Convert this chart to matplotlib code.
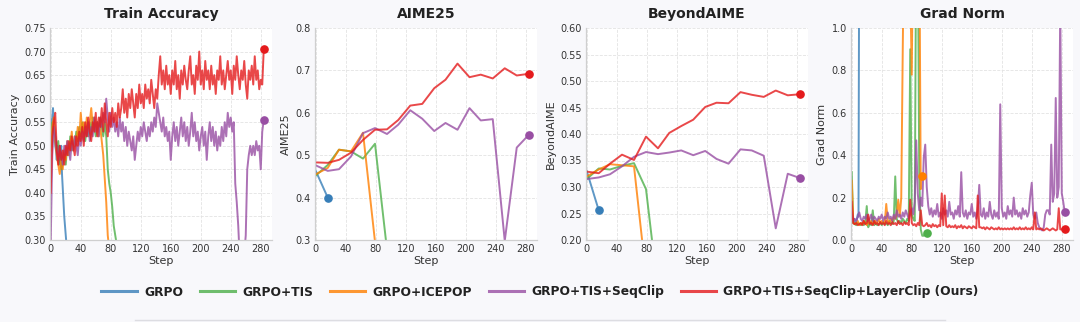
import numpy as np
import matplotlib
matplotlib.use("Agg")
import matplotlib.pyplot as plt
from matplotlib.lines import Line2D

plt.rcParams["font.family"] = ["DejaVu Sans"]

# ---------------- series names / colours ----------------
methods = ["GRPO", "GRPO+TIS", "GRPO+ICEPOP", "GRPO+TIS+SeqClip",
           "GRPO+TIS+SeqClip+LayerClip (Ours)"]
colors = ["#377eb8", "#4daf4a", "#ff7f00", "#984ea3", "#e41a1c"]

# ---------------- training accuracy ----------------
train_steps_blue = list(range(0, 22))
train_blue = [0.52, 0.55, 0.56, 0.58, 0.55, 0.52, 0.50, 0.49, 0.47, 0.50, 0.48,
              0.46, 0.48, 0.47, 0.50, 0.44, 0.41, 0.38, 0.35, 0.33, 0.31, 0.29]

train_steps_green = list(range(0, 90, 2))
train_green = [0.50, 0.55, 0.53, 0.52, 0.49, 0.51, 0.47, 0.45, 0.47, 0.49,
               0.46, 0.50, 0.48, 0.52, 0.49, 0.51, 0.50, 0.53, 0.51, 0.54,
               0.52, 0.55, 0.53, 0.51, 0.54, 0.52, 0.55, 0.53, 0.56, 0.54,
               0.52, 0.55, 0.53, 0.56, 0.54, 0.52, 0.55, 0.52, 0.45, 0.42,
               0.40, 0.37, 0.33, 0.31, 0.29]

train_steps_orange = list(range(0, 80, 2))
train_orange = [0.49, 0.54, 0.56, 0.51, 0.48, 0.46, 0.44, 0.47, 0.45, 0.49,
                0.47, 0.51, 0.48, 0.50, 0.53, 0.49, 0.52, 0.50, 0.54, 0.51,
                0.57, 0.53, 0.55, 0.52, 0.56, 0.53, 0.55, 0.58, 0.54, 0.56,
                0.53, 0.55, 0.52, 0.54, 0.51, 0.48, 0.43, 0.38, 0.31, 0.28]

train_steps_long = list(range(0, 286, 2))
train_purple = [0.30, 0.48, 0.54, 0.52, 0.49, 0.47, 0.50, 0.48, 0.46, 0.50,
                0.48, 0.51, 0.49, 0.47, 0.51, 0.49, 0.52, 0.50, 0.48, 0.52,
                0.50, 0.53, 0.51, 0.54, 0.52, 0.55, 0.51, 0.54, 0.52, 0.56,
                0.53, 0.55, 0.52, 0.56, 0.54, 0.57, 0.55, 0.60, 0.56, 0.53,
                0.57, 0.54, 0.56, 0.53, 0.55, 0.52, 0.56, 0.53, 0.55, 0.51,
                0.54, 0.50, 0.53, 0.51, 0.49, 0.52, 0.47, 0.50, 0.53, 0.51,
                0.54, 0.52, 0.55, 0.53, 0.51, 0.54, 0.52, 0.55, 0.53, 0.56,
                0.54, 0.59, 0.57, 0.55, 0.53, 0.56, 0.52, 0.54, 0.51, 0.53,
                0.47, 0.52, 0.55, 0.51, 0.54, 0.50, 0.53, 0.56, 0.52, 0.55,
                0.51, 0.54, 0.50, 0.53, 0.57, 0.52, 0.55, 0.51, 0.53, 0.49,
                0.52, 0.54, 0.50, 0.53, 0.47, 0.52, 0.55, 0.51, 0.54, 0.50,
                0.53, 0.49, 0.52, 0.50, 0.54, 0.51, 0.55, 0.52, 0.57, 0.54,
                0.56, 0.53, 0.55, 0.42, 0.38, 0.33, 0.26, 0.24, 0.25, 0.27,
                0.31, 0.45, 0.48, 0.50, 0.48, 0.50, 0.48, 0.51, 0.49, 0.50,
                0.45, 0.53, 0.555]
train_red = [0.40, 0.52, 0.55, 0.57, 0.49, 0.46, 0.50, 0.47, 0.49, 0.46,
             0.50, 0.48, 0.51, 0.49, 0.52, 0.50, 0.48, 0.52, 0.50, 0.53,
             0.51, 0.54, 0.50, 0.55, 0.52, 0.56, 0.53, 0.51, 0.55, 0.53,
             0.57, 0.52, 0.56, 0.54, 0.58, 0.53, 0.59, 0.55, 0.52, 0.57,
             0.54, 0.58, 0.55, 0.57, 0.54, 0.59, 0.56, 0.58, 0.62, 0.57,
             0.60, 0.56, 0.61, 0.58, 0.62, 0.59, 0.56, 0.61, 0.58, 0.63,
             0.59, 0.61, 0.58, 0.63, 0.60, 0.62, 0.59, 0.64, 0.61, 0.58,
             0.62, 0.60, 0.65, 0.69, 0.63, 0.66, 0.62, 0.67, 0.63, 0.65,
             0.61, 0.66, 0.63, 0.68, 0.62, 0.65, 0.60, 0.66, 0.63, 0.67,
             0.64, 0.62, 0.66, 0.69, 0.63, 0.65, 0.61, 0.67, 0.64, 0.70,
             0.63, 0.66, 0.62, 0.68, 0.64, 0.66, 0.62, 0.67, 0.63, 0.65,
             0.61, 0.66, 0.64, 0.69, 0.63, 0.66, 0.62, 0.65, 0.68, 0.64,
             0.66, 0.61, 0.67, 0.64, 0.69, 0.65, 0.62, 0.66, 0.64, 0.68,
             0.63, 0.60, 0.66, 0.64, 0.67, 0.63, 0.69, 0.64, 0.66, 0.62,
             0.64, 0.63, 0.705]

# ---------------- evaluation benchmarks ----------------
eval_steps = [0, 16, 31, 47, 63, 79, 95, 110, 126, 142, 158, 173, 189,
              205, 220, 236, 252, 268, 284]

aime_blue = [0.463, 0.400]
aime_green = [0.452, 0.477, 0.513, 0.509, 0.492, 0.527, 0.277]
aime_orange = [0.455, 0.470, 0.513, 0.509, 0.553, 0.296]
aime_purple = [0.476, 0.463, 0.467, 0.497, 0.552, 0.564, 0.550, 0.572,
               0.606, 0.586, 0.557, 0.576, 0.560, 0.611, 0.582, 0.585,
               0.298, 0.518, 0.548]
aime_red = [0.483, 0.482, 0.489, 0.506, 0.536, 0.560, 0.561, 0.583, 0.617,
            0.621, 0.658, 0.678, 0.716, 0.684, 0.690, 0.681, 0.705, 0.688,
            0.692]

beyond_blue = [0.330, 0.256]
beyond_green = [0.315, 0.335, 0.333, 0.340, 0.345, 0.296, 0.104]
beyond_orange = [0.320, 0.333, 0.343, 0.341, 0.339, 0.133]
beyond_purple = [0.315, 0.318, 0.324, 0.339, 0.357, 0.366, 0.362, 0.365,
                 0.369, 0.360, 0.368, 0.353, 0.344, 0.371, 0.369, 0.359,
                 0.222, 0.325, 0.317]
beyond_red = [0.329, 0.326, 0.344, 0.361, 0.351, 0.395, 0.373, 0.402,
              0.415, 0.427, 0.451, 0.459, 0.458, 0.479, 0.474, 0.470,
              0.482, 0.473, 0.475]

# ---------------- gradient norm ----------------
grad_steps_blue = list(range(0, 11))
grad_blue = [0.12, 0.09, 0.08, 0.10, 0.09, 0.08, 0.09, 0.10, 0.12, 0.11, 1.5]

grad_steps_green = list(range(0, 102, 2))
grad_green = [0.32, 0.08, 0.075, 0.07, 0.08, 0.075, 0.07, 0.08, 0.07, 0.08,
              0.16, 0.06, 0.08, 0.07, 0.14, 0.07, 0.08, 0.07, 0.075, 0.08,
              0.07, 0.085, 0.075, 0.08, 0.07, 0.09, 0.08, 0.075, 0.09, 0.30,
              0.10, 0.08, 0.09, 0.08, 0.10, 0.09, 0.08, 0.10, 0.09, 0.90,
              0.12, 0.10, 0.09, 1.50, 1.50, 0.30, 0.05, 0.02, 0.02, 0.03,
              0.035]

grad_steps_orange = list(range(0, 94, 2)) + [93]
grad_orange = [0.28, 0.08, 0.075, 0.08, 0.09, 0.07, 0.08, 0.075, 0.09, 0.08,
               0.07, 0.085, 0.08, 0.09, 0.075, 0.08, 0.09, 0.08, 0.10, 0.08,
               0.09, 0.085, 0.08, 0.17, 0.09, 0.08, 0.10, 0.09, 0.11, 0.10,
               0.12, 0.19, 0.11, 0.20, 0.90, 1.50, 1.50, 1.50, 1.50, 1.20,
               0.78, 1.50, 1.50, 1.50, 1.50, 1.50, 0.24, 0.30]

grad_purple = [0.13, 0.09, 0.10, 0.09, 0.11, 0.13, 0.10, 0.09, 0.11, 0.10,
               0.12, 0.09, 0.10, 0.12, 0.09, 0.11, 0.10, 0.09, 0.11, 0.10,
               0.12, 0.09, 0.11, 0.10, 0.13, 0.10, 0.11, 0.09, 0.12, 0.10,
               0.14, 0.11, 0.12, 0.10, 0.13, 0.11, 0.14, 0.12, 0.10, 0.13,
               0.15, 0.12, 0.18, 0.47, 0.22, 0.14, 0.20, 0.16, 0.39, 0.45,
               0.25, 0.16, 0.12, 0.15, 0.11, 0.14, 0.12, 0.17, 0.11, 0.13,
               0.10, 0.15, 0.12, 0.14, 0.11, 0.18, 0.12, 0.13, 0.10, 0.14,
               0.12, 0.16, 0.11, 0.32, 0.13, 0.11, 0.14, 0.10, 0.13, 0.12,
               0.17, 0.11, 0.13, 0.10, 0.14, 0.26, 0.12, 0.11, 0.15, 0.10,
               0.13, 0.11, 0.18, 0.12, 0.10, 0.14, 0.11, 0.13, 0.10, 0.64,
               0.15, 0.11, 0.13, 0.10, 0.16, 0.12, 0.14, 0.11, 0.20, 0.12,
               0.14, 0.11, 0.13, 0.10, 0.15, 0.12, 0.14, 0.11, 0.13, 0.21,
               0.27, 0.12, 0.10, 0.13, 0.08, 0.06, 0.05, 0.045, 0.06, 0.12,
               0.14, 0.14, 0.12, 0.45, 0.18, 0.22, 0.67, 0.20, 0.25, 1.10,
               0.22, 0.18, 0.13]
grad_red = [0.18, 0.08, 0.075, 0.08, 0.07, 0.075, 0.08, 0.07, 0.09, 0.075,
            0.08, 0.12, 0.075, 0.08, 0.07, 0.09, 0.075, 0.08, 0.07, 0.085,
            0.075, 0.08, 0.07, 0.09, 0.075, 0.08, 0.07, 0.085, 0.075, 0.08,
            0.07, 0.09, 0.075, 0.08, 0.07, 0.085, 0.075, 0.08, 0.07, 0.19,
            0.08, 0.07, 0.075, 0.065, 0.08, 0.07, 0.14, 0.07, 0.065, 0.07,
            0.08, 0.065, 0.07, 0.06, 0.075, 0.065, 0.07, 0.06, 0.07, 0.065,
            0.22, 0.07, 0.21, 0.065, 0.06, 0.07, 0.06, 0.065, 0.06, 0.07,
            0.055, 0.065, 0.06, 0.07, 0.055, 0.065, 0.06, 0.055, 0.065, 0.06,
            0.055, 0.065, 0.06, 0.055, 0.21, 0.06, 0.06, 0.055, 0.06, 0.05,
            0.06, 0.055, 0.05, 0.06, 0.055, 0.05, 0.055, 0.05, 0.06, 0.05,
            0.055, 0.05, 0.055, 0.05, 0.055, 0.05, 0.055, 0.05, 0.06, 0.05,
            0.055, 0.05, 0.06, 0.05, 0.055, 0.05, 0.06, 0.05, 0.055, 0.05,
            0.06, 0.05, 0.13, 0.05, 0.055, 0.05, 0.055, 0.05, 0.045, 0.05,
            0.055, 0.05, 0.045, 0.05, 0.055, 0.05, 0.045, 0.05, 0.15, 0.05,
            0.05, 0.055, 0.05]

# ---------------- figure ----------------
BG = "#f8f8fb"
fig = plt.figure(figsize=(10.8, 3.22), dpi=100, facecolor=BG)
W, H = 1080, 322
lefts = [50, 315, 586, 851]
ax_w, top, bottom = 222, 28, 240

panels = [
    dict(title="Train Accuracy", ylim=(0.30, 0.75), yticks=np.arange(0.30, 0.751, 0.05), fmt="{:.2f}",
         series=[(train_steps_blue, train_blue), (train_steps_green, train_green),
                 (train_steps_orange, train_orange), (train_steps_long, train_purple),
                 (train_steps_long, train_red)],
         dots=[False, False, False, True, True]),
    dict(title="AIME25", ylim=(0.3, 0.8), yticks=np.arange(0.3, 0.81, 0.1), fmt="{:.1f}",
         series=[(eval_steps[:2], aime_blue), (eval_steps[:7], aime_green),
                 (eval_steps[:6], aime_orange), (eval_steps, aime_purple),
                 (eval_steps, aime_red)],
         dots=[True, False, False, True, True]),
    dict(title="BeyondAIME", ylim=(0.20, 0.60), yticks=np.arange(0.20, 0.601, 0.05), fmt="{:.2f}",
         series=[(eval_steps[:2], beyond_blue), (eval_steps[:7], beyond_green),
                 (eval_steps[:6], beyond_orange), (eval_steps, beyond_purple),
                 (eval_steps, beyond_red)],
         dots=[True, False, False, True, True]),
    dict(title="Grad Norm", ylim=(0.0, 1.0), yticks=np.arange(0.0, 1.01, 0.2), fmt="{:.1f}",
         series=[(grad_steps_blue, grad_blue), (grad_steps_green, grad_green),
                 (grad_steps_orange, grad_orange), (train_steps_long, grad_purple),
                 (train_steps_long, grad_red)],
         dots=[False, True, True, True, True]),
]

for left, p in zip(lefts, panels):
    ax = fig.add_axes([left / W, 1 - bottom / H, ax_w / W, (bottom - top) / H])
    ax.set_facecolor("white")
    for (xs, ys), c, dot in zip(p["series"], colors, p["dots"]):
        ax.plot(xs, ys, color=c, lw=1.4, alpha=0.8, solid_joinstyle="round")
        if dot and p["ylim"][0] <= ys[-1] <= p["ylim"][1]:
            ax.plot(xs[-1], ys[-1], "o", color=c, ms=5.2, zorder=5, clip_on=False)
    ax.set_xlim(-1, 295)
    ax.set_ylim(*p["ylim"])
    ax.set_xticks(np.arange(0, 281, 40))
    ax.set_yticks(p["yticks"])
    ax.set_yticklabels([p["fmt"].format(v) for v in p["yticks"]])
    ax.tick_params(length=0, labelsize=7, colors="#333333", pad=3)
    ax.grid(True, ls="--", lw=0.6, color="#e3e3e3")
    ax.set_axisbelow(True)
    for s in ("top", "right"):
        ax.spines[s].set_visible(False)
    for s in ("left", "bottom"):
        ax.spines[s].set_color("#cfcfcf")
        ax.spines[s].set_linewidth(0.9)
    ax.set_title(p["title"], fontsize=10, fontweight="bold", color="#222222", pad=7)
    ax.set_xlabel("Step", fontsize=8, color="#333333", labelpad=1)
    ax.set_ylabel(p["title"], fontsize=8, color="#333333", labelpad=3)

handles = [Line2D([0], [0], color=c, lw=2.2, alpha=0.8) for c in colors]
fig.legend(handles, methods, loc="center", bbox_to_anchor=(0.5, 1 - 292 / H),
           ncol=5, frameon=False, handlelength=2.9, handletextpad=0.6,
           columnspacing=1.35, prop=dict(size=8.8, weight="bold"), labelcolor="#222222")

fig.add_artist(Line2D([135 / W, 945 / W], [1 - 320 / H] * 2, transform=fig.transFigure,
                      color="#dddde2", lw=1))

fig.savefig("out.png", dpi=100, facecolor=BG)
